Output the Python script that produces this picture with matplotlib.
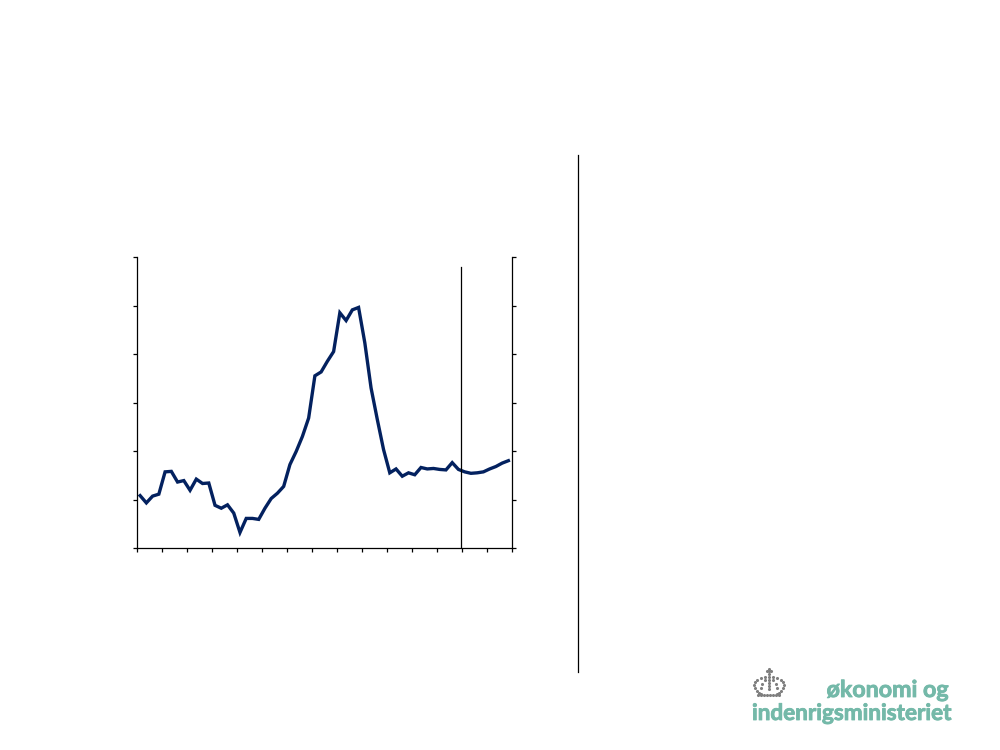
import matplotlib
matplotlib.use('Agg')
import matplotlib.pyplot as plt
import matplotlib.patheffects as pe
from matplotlib.lines import Line2D

# in units of one y tick
values = [1.08, 0.93, 1.07, 1.11, 1.57, 1.58, 1.36, 1.39, 1.19, 1.42,
          1.33, 1.34, 0.88, 0.82, 0.89, 0.72, 0.32, 0.61, 0.61, 0.59,
          0.82, 1.02, 1.13, 1.27, 1.72, 1.99, 2.30, 2.68, 3.55, 3.63,
          3.85, 4.05, 4.85, 4.69, 4.91, 4.96, 4.23, 3.30, 2.65, 2.03,
          1.55, 1.63, 1.48, 1.55, 1.51, 1.66, 1.63, 1.64, 1.62, 1.61,
          1.76, 1.62, 1.57, 1.54, 1.55, 1.57, 1.63, 1.68, 1.75, 1.80]
quarters = list(range(len(values)))
year_edges = [q - 0.5 for q in range(0, 61, 4)]
y_ticks = [0, 1, 2, 3, 4, 5, 6]
forecast_start = 51.35
forecast_top = 5.79

logo_lines = ['økonomi og', 'indenrigsministeriet']
teal = '#74b9a9'
navy = '#03215f'

# crown of the logo, dots in pixels of the picture
crown_x = [769, 769, 769, 767, 771, 769, 769, 769, 769, 769,
           765, 761, 757, 755, 754, 755, 757, 759, 761,
           773, 777, 781, 783, 784, 783, 781, 779, 777,
           765, 762, 761, 773, 776, 777,
           758, 761, 764, 767, 770, 773, 776, 779]
crown_y = [669, 671, 674, 671, 671, 677, 680, 683, 686, 689,
           677, 678, 680, 682, 685, 688, 691, 693, 694,
           677, 678, 680, 682, 685, 688, 691, 693, 694,
           680, 684, 688, 680, 684, 688,
           695, 695, 695, 695, 695, 695, 695, 695]

fig = plt.figure(figsize=(10, 7.5), dpi=100)
ax = fig.add_axes([0.137, 1 - 548 / 750, 0.3745, 291 / 750])
ax.plot(quarters, values, color=navy, lw=2.4, solid_joinstyle='miter')
ax.plot([forecast_start, forecast_start], [0, forecast_top], color='black', lw=0.9)

ax.set_xlim(-0.5, 59.5)
ax.set_ylim(0, 6)
ax.set_xticks(year_edges)
ax.set_yticks(y_ticks)
ax.tick_params(axis='both', length=3, width=0.9, left=True, right=True, bottom=True,
               labelleft=False, labelbottom=False)
ax.spines['top'].set_visible(False)
for side in ['left', 'right', 'bottom']:
    ax.spines[side].set_linewidth(0.9)

# separator between the two columns
fig.add_artist(Line2D([0.578, 0.578], [1 - 672 / 750, 1 - 155 / 750], color='black', lw=0.9))

# logo
thicker = [pe.withStroke(linewidth=0.6, foreground=teal)]
fig.text(948 / 1000, 1 - 697 / 750, logo_lines[0], ha='right', va='baseline', color=teal,
         fontsize=16.7, fontweight='bold', family='Lato', path_effects=thicker)
fig.text(752 / 1000, 1 - 720 / 750, logo_lines[1], ha='left', va='baseline', color=teal,
         fontsize=16.2, fontweight='bold', family='Lato', path_effects=thicker)

logo = fig.add_axes([0, 0, 1, 1])
logo.set_xlim(0, 1000)
logo.set_ylim(750, 0)
logo.axis('off')
logo.patch.set_alpha(0)
logo.scatter(crown_x, crown_y, s=5, color='#7f7f7f', linewidths=0)

fig.savefig('out.png', dpi=100)
